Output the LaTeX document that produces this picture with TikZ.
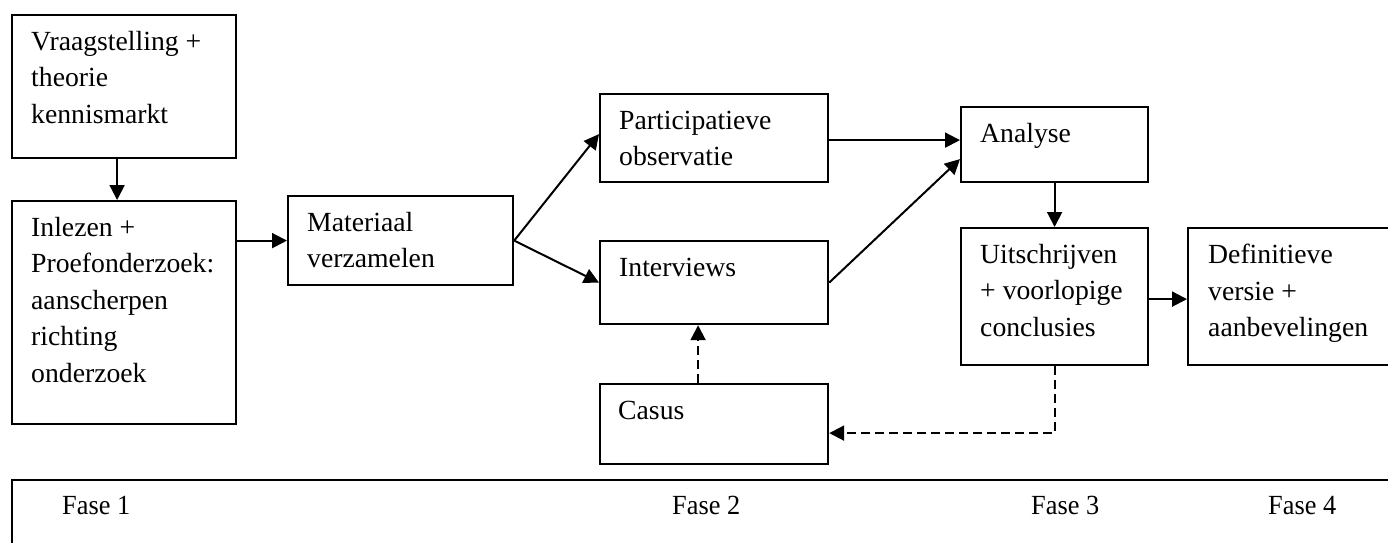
\documentclass[tikz,border=0pt]{standalone}
\usepackage{fontspec}
\setmainfont{Liberation Serif}
\usetikzlibrary{arrows.meta,calc}
\begin{document}
\begin{tikzpicture}[x=1pt,y=-1pt,
  box/.style={draw,line width=2.2pt,rectangle,inner sep=0pt,anchor=north west},
  txt/.style={anchor=north west,inner sep=0pt,align=left,font=\fontsize{27.7}{36.5}\selectfont},
  fase/.style={anchor=base west,inner sep=0pt,font=\fontsize{27.7}{36.5}\selectfont},
  arr/.style={line width=2pt,-{Triangle[length=15pt,width=15pt]}},
  dsh/.style={arr,dash pattern=on 9pt off 5pt}]
\useasboundingbox (0,0) rectangle (1388,542);
\clip (0,0) rectangle (1388,542);
% boxes
\node[box,minimum width=224,minimum height=143] (A) at (11,14) {};
\node[box,minimum width=224,minimum height=223] (B) at (11,200) {};
\node[box,minimum width=225,minimum height=89] (C) at (287,195) {};
\node[box,minimum width=228,minimum height=88] (D) at (599,93) {};
\node[box,minimum width=228,minimum height=83] (E) at (599,240) {};
\node[box,minimum width=228,minimum height=80] (F) at (599,383) {};
\node[box,minimum width=187,minimum height=75] (G) at (960,106) {};
\node[box,minimum width=187,minimum height=137] (H) at (960,227) {};
\node[box,minimum width=240,minimum height=137] (I) at (1187,227) {};
\node[box,minimum width=1400,minimum height=100] (P) at (11,479) {};
% texts
\node[txt] (tA) at ($(A.north west)+(20,17)$) {\rule{0pt}{19pt}Vraagstelling +\\theorie\\kennismarkt};
\node[txt] (tB) at ($(B.north west)+(20,17)$) {\rule{0pt}{19pt}Inlezen +\\Proefonderzoek:\\aanscherpen\\richting\\onderzoek};
\node[txt] (tC) at ($(C.north west)+(20,17)$) {\rule{0pt}{19pt}Materiaal\\verzamelen};
\node[txt] (tD) at ($(D.north west)+(20,17)$) {\rule{0pt}{19pt}Participatieve\\observatie};
\node[txt] (tE) at ($(E.north west)+(20,17)$) {\rule{0pt}{19pt}Interviews};
\node[txt] (tF) at ($(F.north west)+(19,17)$) {\rule{0pt}{19pt}Casus};
\node[txt] (tG) at ($(G.north west)+(20,17)$) {\rule{0pt}{19pt}Analyse};
\node[txt] (tH) at ($(H.north west)+(20,17)$) {\rule{0pt}{19pt}Uitschrijven\\+ voorlopige\\conclusies};
\node[txt] (tI) at ($(I.north west)+(21,17)$) {\rule{0pt}{19pt}Definitieve\\versie +\\aanbevelingen};
% phases
\node[fase] (f1) at (62,514) {\scalebox{0.95}[1]{Fase 1}};
\node[fase] (f2) at (672,514) {\scalebox{0.95}[1]{Fase 2}};
\node[fase] (f3) at (1031,514) {\scalebox{0.95}[1]{Fase 3}};
\node[fase] (f4) at (1268,514) {\scalebox{0.95}[1]{Fase 4}};
% connectors
\draw[arr] ([xshift=-7pt]A.south) -- ([xshift=-7pt]A.south |- B.north);
\draw[arr] (B.east |- C.west) -- (C.west);
\draw[arr] (C.east) -- ([yshift=4pt]D.west);
\draw[arr] (C.east) -- (E.west);
\draw[arr] ([yshift=-2pt]D.east) -- ([yshift=-2pt]D.east -| G.west);
\draw[arr] (E.east) -- ([yshift=-14.5pt]G.west);
\draw[arr] (G.south) -- (G.south |- H.north);
\draw[arr] ([yshift=-2.5pt]H.east) -- ([yshift=-2.5pt]H.east -| I.west);
\draw[dsh] ([xshift=-16pt]F.north) -- ([xshift=-16pt]F.north |- E.south);
\draw[dsh] (H.south) |- ([yshift=-9pt]F.east);
\end{tikzpicture}
\end{document}
